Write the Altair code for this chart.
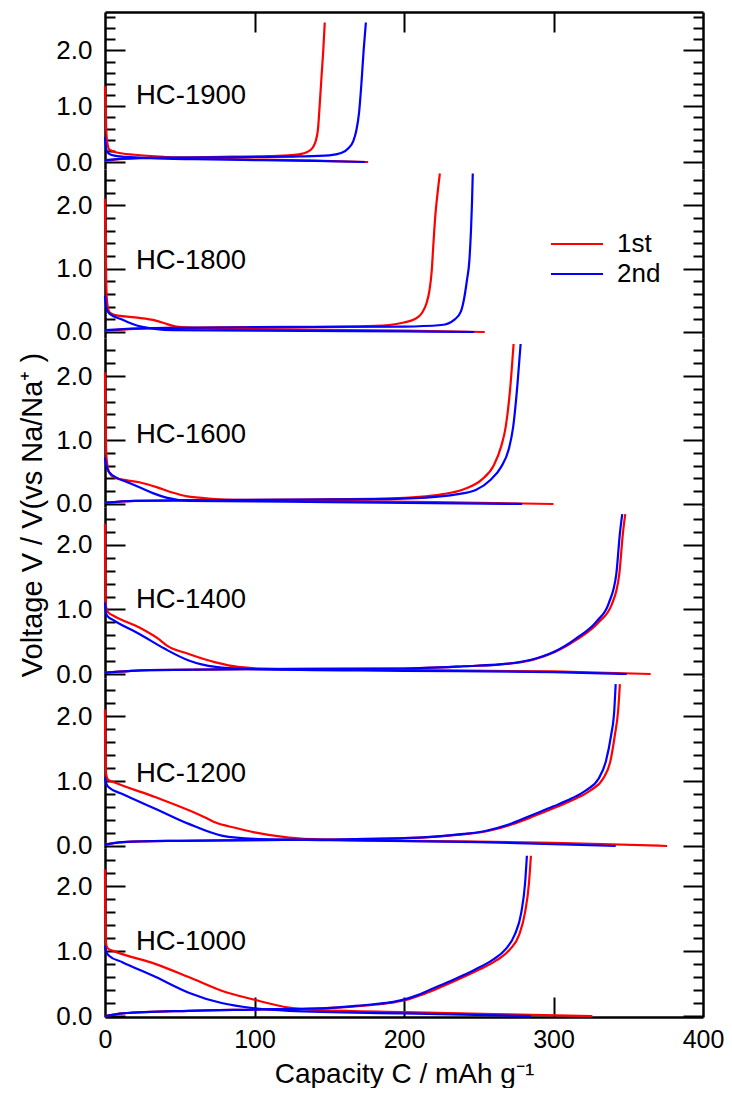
import altair as alt

# ---------------- data (capacity mAh/g, voltage V) ----------------
labels = ["HC-1900", "HC-1800", "HC-1600", "HC-1400", "HC-1200", "HC-1000"]
series_names = ["1st", "2nd"]
series_colors = ["#ff0000", "#0000ff"]
x_tick_labels = [0, 100, 200, 300, 400]
y_tick_labels = [0, 1, 2]

hc1900_1st_discharge = [(0, 1.36), (0.4, 1.0), (0.8, 0.6), (1.5, 0.35), (3, 0.22), (8, 0.17), (20, 0.13), (40, 0.09), (70, 0.06), (100, 0.045), (140, 0.025), (176, 0.0)]
hc1900_1st_charge = [(0, 0.02), (5, 0.04), (20, 0.065), (40, 0.08), (85, 0.095), (110, 0.105), (125, 0.125), (132, 0.15), (136, 0.19), (139, 0.26), (141, 0.38), (142.5, 0.6), (143.8, 1.1), (145, 1.6), (146, 2.0), (147, 2.5)]
hc1900_2nd_discharge = [(0, 0.45), (0.5, 0.3), (1.5, 0.18), (4, 0.13), (10, 0.1), (30, 0.07), (60, 0.05), (100, 0.035), (140, 0.02), (174, 0.0)]
hc1900_2nd_charge = [(0, 0.035), (20, 0.07), (50, 0.08), (100, 0.09), (130, 0.1), (150, 0.12), (158, 0.16), (163, 0.25), (166, 0.37), (168, 0.55), (170, 0.9), (171.5, 1.4), (173, 2.0), (174.5, 2.5)]

hc1800_1st_discharge = [(0, 2.1), (0.4, 1.5), (0.8, 0.8), (1.5, 0.45), (3, 0.31), (6, 0.27), (20, 0.23), (34, 0.18), (42, 0.12), (49, 0.08), (80, 0.05), (150, 0.035), (200, 0.02), (254, 0.0)]
hc1800_1st_charge = [(0, 0.02), (20, 0.05), (60, 0.07), (120, 0.08), (170, 0.09), (190, 0.11), (200, 0.15), (207, 0.2), (212, 0.3), (215, 0.45), (217, 0.65), (218.5, 0.95), (219.7, 1.4), (221, 1.85), (222.5, 2.2), (224, 2.5)]
hc1800_2nd_discharge = [(0, 0.57), (0.5, 0.45), (1.2, 0.35), (3, 0.29), (11, 0.2), (18, 0.13), (25, 0.08), (45, 0.03), (100, 0.02), (200, 0.01), (247, 0.0)]
hc1800_2nd_charge = [(0, 0.03), (30, 0.06), (100, 0.075), (200, 0.085), (225, 0.11), (234, 0.2), (238, 0.32), (240, 0.5), (242, 0.8), (243.8, 1.15), (244.8, 1.6), (245.5, 2.05), (246, 2.5)]

hc1600_1st_discharge = [(0, 2.06), (0.4, 1.5), (0.8, 0.8), (2, 0.55), (4, 0.45), (8, 0.4), (23, 0.34), (35, 0.26), (45, 0.18), (55, 0.12), (63, 0.1), (80, 0.07), (150, 0.05), (220, 0.03), (300, 0.0)]
hc1600_1st_charge = [(0, 0.02), (20, 0.05), (100, 0.065), (180, 0.08), (210, 0.11), (225, 0.15), (240, 0.23), (252, 0.38), (260, 0.6), (265, 0.9), (268, 1.2), (271, 1.8), (273.3, 2.5)]
hc1600_2nd_discharge = [(0, 0.73), (0.7, 0.62), (1.5, 0.55), (4, 0.47), (7, 0.42), (15, 0.34), (23, 0.26), (32, 0.17), (41, 0.1), (56, 0.05), (150, 0.03), (279, 0.0)]
hc1600_2nd_charge = [(0, 0.02), (20, 0.05), (100, 0.065), (180, 0.075), (215, 0.1), (235, 0.15), (248, 0.22), (258, 0.38), (265, 0.58), (270, 0.85), (273, 1.2), (276, 1.9), (278, 2.5)]

hc1400_1st_discharge = [(0, 2.33), (0.3, 1.5), (0.6, 1.05), (2, 0.96), (6, 0.9), (23, 0.72), (36, 0.54), (41.5, 0.44), (56, 0.31), (74, 0.18), (89, 0.11), (111, 0.08), (200, 0.06), (300, 0.04), (365, 0.0)]
hc1400_1st_charge = [(0, 0.02), (30, 0.06), (100, 0.075), (200, 0.085), (240, 0.12), (270, 0.16), (286, 0.22), (301, 0.34), (316, 0.54), (330, 0.8), (339, 1.08), (344, 1.55), (346.5, 2.2), (348, 2.48)]
hc1400_2nd_discharge = [(0, 1.11), (0.7, 0.95), (1.5, 0.9), (6, 0.83), (23, 0.62), (40, 0.39), (56, 0.21), (74, 0.11), (94, 0.08), (200, 0.05), (300, 0.03), (349, 0.0)]
hc1400_2nd_charge = [(0, 0.02), (30, 0.06), (100, 0.075), (200, 0.085), (240, 0.12), (270, 0.16), (285, 0.22), (300, 0.34), (315, 0.55), (329, 0.82), (337, 1.1), (342, 1.55), (344.5, 2.2), (346, 2.48)]

hc1200_1st_discharge = [(0, 2.1), (0.3, 1.5), (0.8, 1.1), (2, 1.02), (6, 0.98), (34, 0.75), (67, 0.44), (74, 0.36), (87, 0.28), (100, 0.21), (123, 0.13), (145, 0.1), (200, 0.08), (300, 0.05), (376, 0.0)]
hc1200_1st_charge = [(0, 0.02), (12, 0.06), (50, 0.08), (100, 0.09), (150, 0.1), (200, 0.12), (222, 0.145), (242, 0.185), (257, 0.235), (272, 0.33), (287, 0.46), (302, 0.6), (315, 0.73), (325, 0.86), (333, 1.03), (338, 1.3), (341, 1.7), (343.3, 2.1), (344.4, 2.49)]
hc1200_2nd_discharge = [(0, 1.06), (1, 0.95), (2.7, 0.9), (11.6, 0.8), (34, 0.57), (56, 0.34), (78, 0.16), (100, 0.11), (150, 0.09), (250, 0.06), (341.6, 0.0)]
hc1200_2nd_charge = [(0, 0.02), (12, 0.06), (50, 0.08), (100, 0.09), (150, 0.1), (200, 0.12), (220, 0.145), (240, 0.185), (255, 0.235), (270, 0.33), (285, 0.47), (300, 0.61), (312, 0.73), (322, 0.86), (330, 1.03), (335, 1.3), (338.5, 1.7), (340.7, 2.1), (341.6, 2.49)]

hc1000_1st_discharge = [(0, 2.26), (0.3, 1.5), (0.8, 1.1), (2, 1.04), (6, 1.0), (34, 0.8), (56, 0.6), (78, 0.39), (100, 0.25), (123, 0.13), (145, 0.09), (200, 0.06), (260, 0.03), (326, 0.0)]
hc1000_1st_charge = [(0, 0.0), (12, 0.04), (56, 0.08), (100, 0.1), (145, 0.12), (167, 0.15), (182, 0.18), (193, 0.21), (202, 0.25), (211, 0.32), (221, 0.41), (235, 0.55), (249, 0.7), (262, 0.86), (271, 1.03), (277, 1.25), (281, 1.6), (283.6, 2.05), (284.9, 2.47)]
hc1000_2nd_charge = [(0, 0.0), (12, 0.04), (56, 0.08), (100, 0.1), (145, 0.12), (167, 0.155), (181, 0.185), (192, 0.215), (201, 0.26), (210, 0.33), (219, 0.42), (233, 0.56), (247, 0.71), (259, 0.86), (268, 1.03), (274, 1.25), (278.5, 1.6), (281, 2.05), (282.2, 2.47)]
hc1000_2nd_discharge = [(0, 1.08), (1, 0.98), (2.7, 0.93), (11.6, 0.83), (34, 0.6), (56, 0.36), (78, 0.2), (100, 0.12), (123, 0.08), (200, 0.04), (285, 0.0)]

curves = {
    "HC-1900": {"1st": (hc1900_1st_discharge, hc1900_1st_charge), "2nd": (hc1900_2nd_discharge, hc1900_2nd_charge)},
    "HC-1800": {"1st": (hc1800_1st_discharge, hc1800_1st_charge), "2nd": (hc1800_2nd_discharge, hc1800_2nd_charge)},
    "HC-1600": {"1st": (hc1600_1st_discharge, hc1600_1st_charge), "2nd": (hc1600_2nd_discharge, hc1600_2nd_charge)},
    "HC-1400": {"1st": (hc1400_1st_discharge, hc1400_1st_charge), "2nd": (hc1400_2nd_discharge, hc1400_2nd_charge)},
    "HC-1200": {"1st": (hc1200_1st_discharge, hc1200_1st_charge), "2nd": (hc1200_2nd_discharge, hc1200_2nd_charge)},
    "HC-1000": {"1st": (hc1000_1st_discharge, hc1000_1st_charge), "2nd": (hc1000_2nd_discharge, hc1000_2nd_charge)},
}


def curve_rows(label):
    rows = []
    for cyc in series_names:
        for seg_name, pts in zip(["discharge", "charge"], curves[label][cyc]):
            for i, (c, v) in enumerate(pts):
                rows.append({"C": c, "V": v, "cycle": cyc, "seg": cyc + "-" + seg_name, "i": i})
    return rows


# ---------------- layout (per panel: y-domain, height, label y) ----------------
panel_layout = [
    ((-0.125, 2.688), 157, 83.5),
    ((-0.095, 2.571), 169, 91.5),
    ((-0.047, 2.594), 169, 96.5),
    ((-0.062, 2.589), 171, 92.5),
    ((-0.031, 2.585), 170, 95.5),
    ((-0.015, 2.589), 169, 94.0),
]

FONT = "Liberation Sans"
BLACK = "black"
W = 598
xscale = alt.Scale(domain=[0, 400], nice=False, zero=False)
EMPTY = alt.Data(values=[])


def tick_axis(orient, values, size):
    return alt.Axis(orient=orient, offset=-size, values=values, tickSize=size, tickWidth=2,
                    tickColor=BLACK, ticks=True, labels=False, domain=False, grid=False, title=None,
                    minExtent=0, maxExtent=size)


def panel(idx, label, dom, h, ly):
    ys = alt.Scale(domain=list(dom), nice=False, zero=False)
    majors = [v for v in y_tick_labels if dom[0] <= v <= dom[1]]
    minors = []
    for k in range(-2, 16):
        v = round(0.2 * k, 1)
        if dom[0] <= v <= dom[1] and all(abs(v - m) > 1e-9 for m in majors):
            minors.append(v)
    top = idx == 0
    bottom = idx == len(labels) - 1

    y_kwargs = dict(orient="left", values=majors, format=".1f", ticks=False, domain=True,
                    domainColor=BLACK, domainWidth=2.5, labelFontSize=26, labelColor=BLACK,
                    labelPadding=13, labelFlush=False, labelOverlap=False, grid=False, title=None,
                    minExtent=0)
    if idx == 3:
        y_kwargs.update(title="Voltage V  /  V(vs Na/Na\u207a )", titleX=-73, titleY=7.5,
                        titleAngle=270, titleAlign="center", titleBaseline="middle",
                        titleFontSize=29, titleFontWeight="normal", titleColor=BLACK)
    y_main = alt.Axis(**y_kwargs)

    if top:
        x_main = alt.Axis(orient="top", labels=False, ticks=False, domain=True, domainColor=BLACK,
                          domainWidth=2.5, grid=False, title=None, minExtent=0, maxExtent=0)
    elif bottom:
        x_main = alt.Axis(orient="bottom", values=x_tick_labels, ticks=False, domain=True,
                          domainColor=BLACK, domainWidth=2.5, labelFontSize=25, labelColor=BLACK,
                          labelPadding=10, labelFlush=False, labelOverlap=False, grid=False,
                          title="Capacity C / mAh g\u207b\u00b9", titleFontSize=28,
                          titleFontWeight="normal", titleColor=BLACK, titlePadding=8, minExtent=0)
    else:
        x_main = None

    legend = None
    if idx == 1:
        legend = alt.Legend(orient="none", legendX=458, legendY=61, title=None,
                            symbolType="M-2,0H2", symbolSize=676, symbolStrokeWidth=2,
                            labelFontSize=26, labelOffset=26, rowPadding=3, padding=0,
                            labelColor=BLACK)

    lines = alt.Chart(alt.Data(values=curve_rows(label))).mark_line(
        strokeWidth=2.2, interpolate="monotone"
    ).encode(
        x=alt.X("C:Q", scale=xscale, axis=x_main),
        y=alt.Y("V:Q", scale=ys, axis=y_main),
        color=alt.Color("cycle:N", scale=alt.Scale(domain=series_names, range=series_colors), legend=legend),
        detail="seg:N",
        order="i:Q",
    )

    def ylayer(axis):
        return alt.Chart(EMPTY).mark_point(opacity=0).encode(y=alt.Y("V:Q", scale=ys, axis=axis))

    layers = [
        lines,
        ylayer(tick_axis("left", majors, 20)),
        ylayer(tick_axis("left", minors, 10)),
        ylayer(alt.Axis(orient="right", labels=False, ticks=False, domain=True, domainColor=BLACK,
                        domainWidth=2.5, grid=False, title=None, minExtent=0, maxExtent=0)),
        ylayer(tick_axis("right", majors, 20)),
        ylayer(tick_axis("right", minors, 10)),
    ]
    if top or bottom:
        layers.append(
            alt.Chart(EMPTY).mark_point(opacity=0).encode(
                x=alt.X("C:Q", scale=xscale, axis=tick_axis("top" if top else "bottom", [100, 200, 300], 20))
            )
        )
    layers.append(
        alt.Chart(alt.Data(values=[{"label": label}])).mark_text(
            align="left", baseline="middle", fontSize=27.5, color=BLACK
        ).encode(x=alt.value(31), y=alt.value(ly), text="label:N")
    )
    return alt.layer(*layers).resolve_axis(x="independent", y="independent").properties(width=W, height=h)


panels = [panel(i, lab, *panel_layout[i]) for i, lab in enumerate(labels)]

chart = alt.vconcat(*panels, spacing=0, bounds="flush").resolve_legend(
    color="independent"
).properties(
    padding={"left": 9, "top": 3, "right": 0, "bottom": 0}
).configure(font=FONT).configure_view(stroke=None).configure_axis(minExtent=0, grid=False)

chart.save("out.html", embed_options={"renderer": "svg", "actions": False})
